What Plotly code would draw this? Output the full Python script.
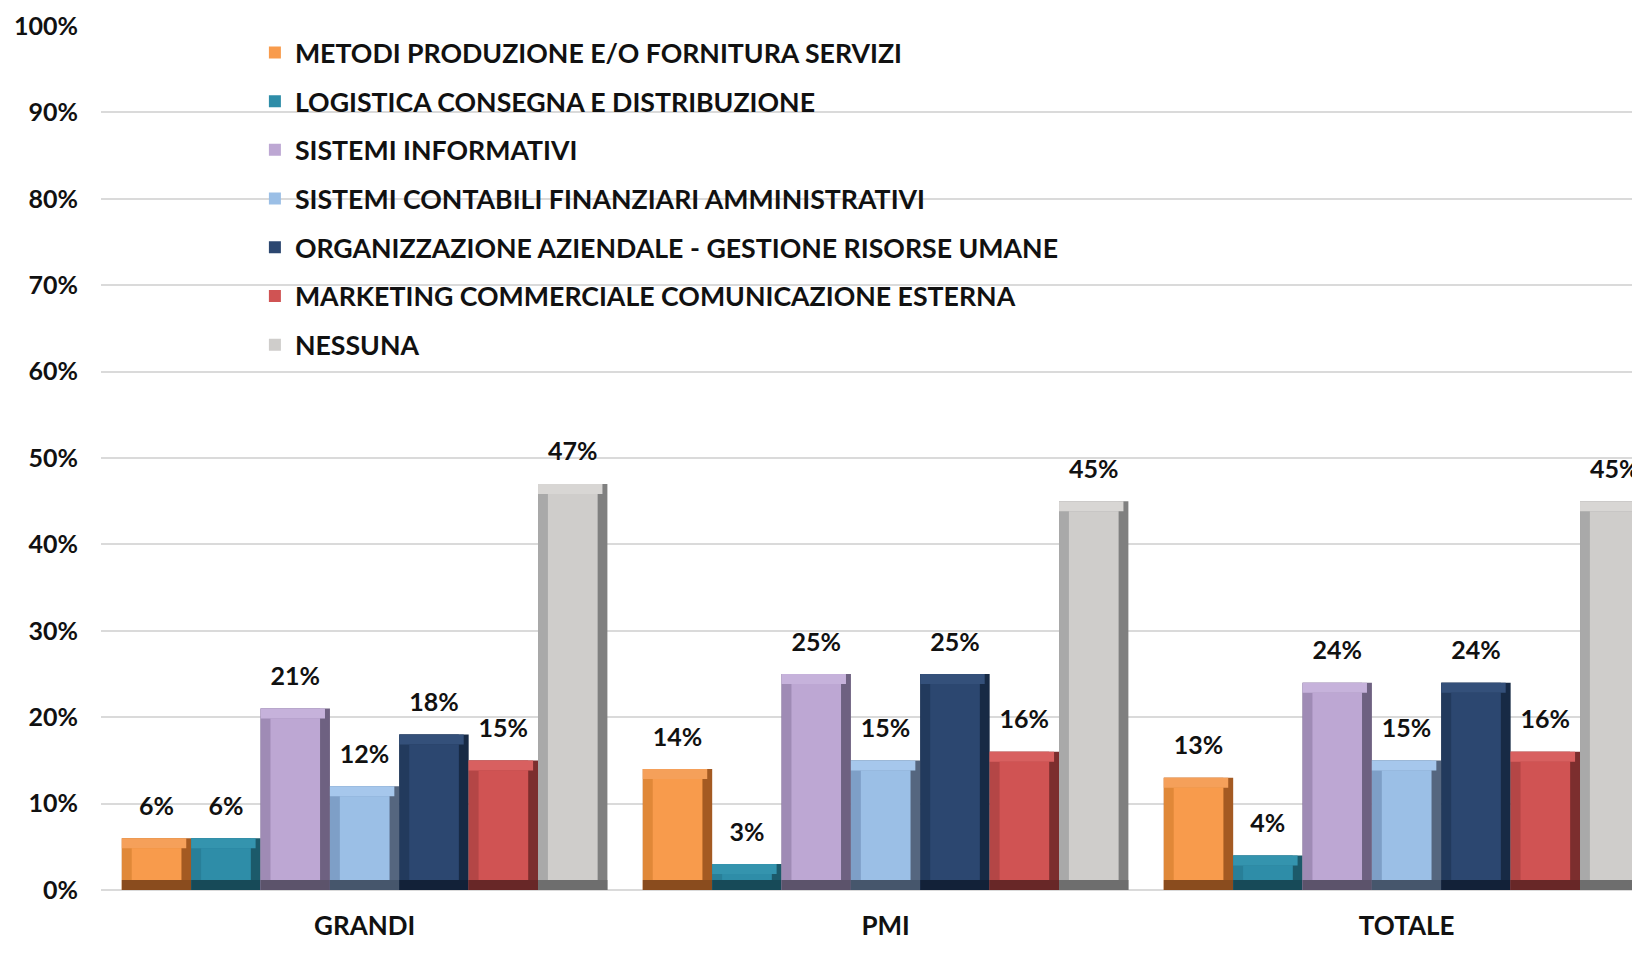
import plotly.graph_objects as go

categories = ["GRANDI", "PMI", "TOTALE"]
series_names = [
    "METODI PRODUZIONE E/O FORNITURA SERVIZI",
    "LOGISTICA CONSEGNA E DISTRIBUZIONE",
    "SISTEMI INFORMATIVI",
    "SISTEMI CONTABILI FINANZIARI AMMINISTRATIVI",
    "ORGANIZZAZIONE AZIENDALE - GESTIONE RISORSE UMANE",
    "MARKETING COMMERCIALE COMUNICAZIONE ESTERNA",
    "NESSUNA",
]
metodi = [0.06, 0.14, 0.13]
logistica = [0.06, 0.03, 0.04]
informativi = [0.21, 0.25, 0.24]
contabili = [0.12, 0.15, 0.15]
organizzazione = [0.18, 0.25, 0.24]
marketing = [0.15, 0.16, 0.16]
nessuna = [0.47, 0.45, 0.45]
series_values = [metodi, logistica, informativi, contabili, organizzazione, marketing, nessuna]

# bevel shades: face, top, left, right, bottom
shades = [
    ("#F89B4C", "#F5A05A", "#E08838", "#A45A22", "#8A4C1E"),
    ("#2E8DA8", "#3494AE", "#287F98", "#1C5A6A", "#174A58"),
    ("#BDA7D3", "#C6B2DB", "#9F8BB5", "#6E6181", "#5C536B"),
    ("#9BBFE6", "#A6C7EC", "#7E9FC7", "#55667F", "#46566C"),
    ("#2C4770", "#34507A", "#223A5D", "#172A45", "#122138"),
    ("#D05353", "#D86060", "#B44646", "#7C2E2E", "#682727"),
    ("#CFCDCB", "#D8D6D4", "#A9A9A9", "#808080", "#6E6E6E"),
]

FONT = "Lato"
GAP = 0.068
n = len(series_names)
slot = (1 - GAP) / n
bw = 0.019   # bevel width in category units
bh = 0.0116  # bevel height in axis units

fig = go.Figure()
for i, (name, vals) in enumerate(zip(series_names, series_values)):
    face, top, left, right, bottom = shades[i]
    s = -(1 - GAP) / 2 + i * slot
    grp = f"g{i}"
    common = dict(x=categories, legendgroup=grp, offsetgroup=grp, showlegend=False,
                  hoverinfo="skip", marker_line_width=0)
    # right bevel (whole block underneath)
    fig.add_trace(go.Bar(y=vals, offset=s, width=slot, marker_color=right, **common))
    # left bevel
    fig.add_trace(go.Bar(y=vals, offset=s, width=slot - bw, marker_color=left, **common))
    # top bevel
    fig.add_trace(go.Bar(y=[bh] * len(vals), base=[v - bh for v in vals],
                         offset=s, width=slot - bw / 2, marker_color=top, **common))
    # bottom bevel
    fig.add_trace(go.Bar(y=[bh] * len(vals), offset=s, width=slot,
                         marker_color=bottom, **common))
    # face
    fig.add_trace(go.Bar(
        x=categories, y=[v - 2 * bh for v in vals], base=[bh] * len(vals),
        offset=s + bw, width=slot - 2 * bw, name=name, legendgroup=grp, offsetgroup=grp,
        marker=dict(color=face, line=dict(width=0)),
        customdata=vals, hovertemplate="%{x}: %{customdata:.0%}<extra>" + name + "</extra>",
    ))

# value labels: invisible markers push the text up above each bar
for i, vals in enumerate(series_values):
    fig.add_trace(go.Scatter(
        x=categories, y=vals, mode="markers+text",
        text=[f"{v:.0%}" for v in vals],
        textposition="top center",
        textfont=dict(family=FONT, size=25, color="#111111", weight="bold"),
        marker=dict(size=26, opacity=0),
        offsetgroup=f"g{i}", legendgroup=f"g{i}",
        showlegend=False, hoverinfo="skip", cliponaxis=False,
    ))

fig.update_layout(
    width=1632, height=937,
    margin=dict(l=93, r=0, t=18, b=55, autoexpand=False),
    paper_bgcolor="white", plot_bgcolor="white",
    barmode="group", bargap=GAP, bargroupgap=0,
    scattermode="group", scattergap=GAP,
    font=dict(family=FONT, color="#111111"),
    showlegend=True,
    legend=dict(
        x=0.100, y=0.997, xanchor="left", yanchor="top",
        traceorder="grouped", tracegroupgap=11,
        font=dict(family=FONT, size=26.7, color="#111111", weight="bold"),
        bgcolor="rgba(0,0,0,0)",
    ),
)
fig.update_xaxes(
    range=[-0.506, 2.448], showgrid=False, showline=False, zeroline=False,
    tickfont=dict(family=FONT, size=26, color="#111111", weight="bold"),
    ticklabelstandoff=18, automargin=False,
)
fig.update_yaxes(
    range=[0, 1], dtick=0.1, tickformat=".0%",
    showgrid=True, gridcolor="#DADADA", gridwidth=2,
    zeroline=True, zerolinecolor="#DADADA", zerolinewidth=2,
    tickfont=dict(family=FONT, size=25, color="#111111", weight="bold"),
    ticklabelstandoff=22, automargin=False,
)

fig.write_html("out.html")
